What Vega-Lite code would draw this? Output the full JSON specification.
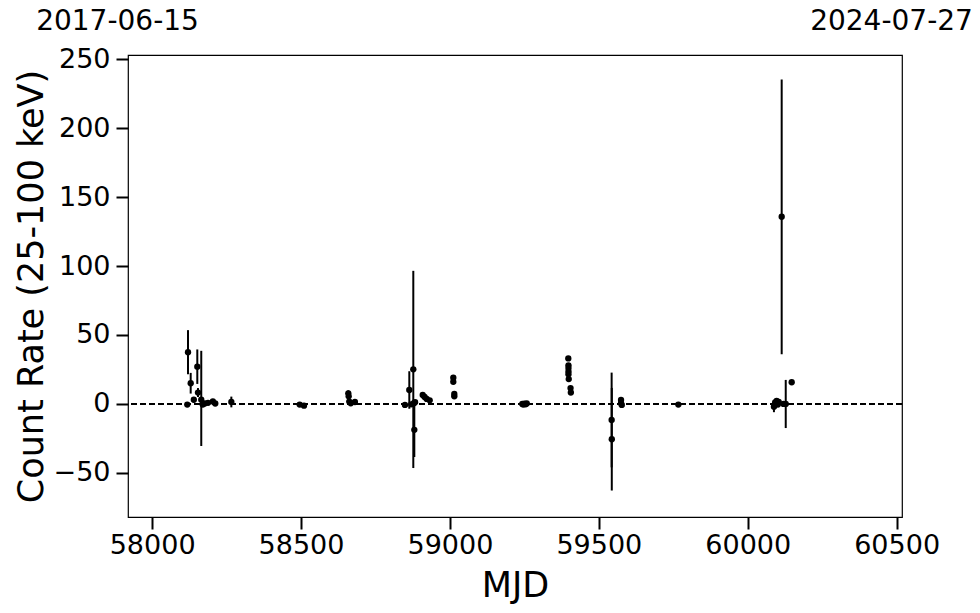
{
  "$schema": "https://vega.github.io/schema/vega-lite/v6.json",
  "autosize": {"type": "none"},
  "padding": {"left": 128, "top": 55, "right": 78, "bottom": 96},
  "width": 774,
  "height": 462,
  "config": {
    "font": "DejaVu Sans",
    "view": {"stroke": "black", "strokeWidth": 1.2},
    "axis": {"grid": false, "domain": false, "labelColor": "black", "titleColor": "black", "tickColor": "black", "titleFontWeight": "normal", "labelFont": "DejaVu Sans", "titleFont": "DejaVu Sans"}
  },
  "data": {
    "values": [
      {"mjd": 58118, "rate": -0.5, "lo": -2, "hi": 1},
      {"mjd": 58120.5, "rate": 37.5, "lo": 21.5, "hi": 53.5},
      {"mjd": 58129.5, "rate": 15, "lo": 7.5, "hi": 22.5},
      {"mjd": 58140, "rate": 3, "lo": 1, "hi": 5},
      {"mjd": 58151.7, "rate": 27, "lo": 14.5, "hi": 39.5},
      {"mjd": 58154, "rate": 8.2, "lo": 5, "hi": 11.5},
      {"mjd": 58165, "rate": 3, "lo": -30.5, "hi": 38.5},
      {"mjd": 58170, "rate": -0.5, "lo": -1.5, "hi": 0.5},
      {"mjd": 58176.5, "rate": 0.3, "lo": -0.7, "hi": 1.3},
      {"mjd": 58187.6, "rate": 0.8, "lo": -0.2, "hi": 1.8},
      {"mjd": 58204, "rate": 1.8, "lo": 0.8, "hi": 2.8},
      {"mjd": 58212, "rate": 0.3, "lo": -0.7, "hi": 1.3},
      {"mjd": 58266, "rate": 1.4, "lo": -2.5, "hi": 5.3},
      {"mjd": 58495.5, "rate": -0.5, "lo": -1.5, "hi": 0.5},
      {"mjd": 58510, "rate": -1.3, "lo": -2.3, "hi": -0.3},
      {"mjd": 58658.8, "rate": 7.7, "lo": 5.5, "hi": 9.9},
      {"mjd": 58660, "rate": 5.5, "lo": 4, "hi": 7},
      {"mjd": 58662, "rate": 1.7, "lo": 0.7, "hi": 2.7},
      {"mjd": 58667, "rate": 0.5, "lo": -0.5, "hi": 1.5},
      {"mjd": 58681, "rate": 1.4, "lo": 0.4, "hi": 2.4},
      {"mjd": 58849, "rate": -0.7, "lo": -1.7, "hi": 0.3},
      {"mjd": 58863.6, "rate": 10.1, "lo": -3.5, "hi": 23.7},
      {"mjd": 58870, "rate": -0.3, "lo": -1.5, "hi": 1},
      {"mjd": 58877, "rate": 25.1, "lo": -46.5, "hi": 96.5},
      {"mjd": 58879, "rate": 0.5, "lo": -1, "hi": 2},
      {"mjd": 58880.4, "rate": -18.8, "lo": -38.5, "hi": 0.8},
      {"mjd": 58883, "rate": 1.2, "lo": 0, "hi": 2.4},
      {"mjd": 58908.6, "rate": 6.5, "lo": 5.5, "hi": 7.5},
      {"mjd": 58915, "rate": 5, "lo": 4, "hi": 6},
      {"mjd": 58922, "rate": 3.6, "lo": 2.6, "hi": 4.6},
      {"mjd": 58932, "rate": 2.6, "lo": 1.6, "hi": 3.6},
      {"mjd": 59011.3, "rate": 19, "lo": 18, "hi": 20},
      {"mjd": 59011.3, "rate": 16, "lo": 15, "hi": 17},
      {"mjd": 59014.7, "rate": 7.2, "lo": 6.2, "hi": 8.2},
      {"mjd": 59014.7, "rate": 5.5, "lo": 4.5, "hi": 6.5},
      {"mjd": 59243, "rate": 0, "lo": -0.5, "hi": 0.5},
      {"mjd": 59246, "rate": -0.5, "lo": -1, "hi": 0},
      {"mjd": 59250, "rate": 0.2, "lo": -0.3, "hi": 0.7},
      {"mjd": 59254, "rate": -0.3, "lo": -0.8, "hi": 0.2},
      {"mjd": 59258, "rate": 0.3, "lo": -0.2, "hi": 0.8},
      {"mjd": 59397.5, "rate": 33, "lo": 32, "hi": 34},
      {"mjd": 59398, "rate": 28, "lo": 27, "hi": 29},
      {"mjd": 59398, "rate": 26, "lo": 25, "hi": 27},
      {"mjd": 59398, "rate": 23.5, "lo": 22.5, "hi": 24.5},
      {"mjd": 59398, "rate": 21.5, "lo": 20.5, "hi": 22.5},
      {"mjd": 59399, "rate": 18, "lo": 17, "hi": 19},
      {"mjd": 59405, "rate": 11.5, "lo": 10.5, "hi": 12.5},
      {"mjd": 59406, "rate": 8.3, "lo": 7.3, "hi": 9.3},
      {"mjd": 59543, "rate": -11.6, "lo": -46, "hi": 22.7},
      {"mjd": 59543.5, "rate": -25.6, "lo": -62.8, "hi": 11.6},
      {"mjd": 59574.5, "rate": 2.9, "lo": 1.9, "hi": 3.9},
      {"mjd": 59574.5, "rate": 0.5, "lo": -0.5, "hi": 1.5},
      {"mjd": 59577, "rate": -0.7, "lo": -1.7, "hi": 0.3},
      {"mjd": 59767, "rate": -0.5, "lo": -1.5, "hi": 0.5},
      {"mjd": 60088, "rate": -2, "lo": -6, "hi": 2},
      {"mjd": 60092, "rate": 1, "lo": 0, "hi": 2},
      {"mjd": 60097, "rate": 2.2, "lo": 1.2, "hi": 3.2},
      {"mjd": 60101, "rate": -0.5, "lo": -1.5, "hi": 0.5},
      {"mjd": 60104, "rate": 1.5, "lo": 0.5, "hi": 2.5},
      {"mjd": 60114, "rate": 135.7, "lo": 36, "hi": 235.3},
      {"mjd": 60120, "rate": 0, "lo": -1, "hi": 1},
      {"mjd": 60127.6, "rate": 0, "lo": -17.5, "hi": 17.4},
      {"mjd": 60147.6, "rate": 15.7, "lo": 14.7, "hi": 16.7}
    ]
  },
  "layer": [
    {
      "mark": {"type": "rule", "strokeDash": [6, 3], "strokeWidth": 1.5, "color": "black"},
      "encoding": {"y": {"datum": 0, "type": "quantitative", "scale": {"domain": [-82, 253], "nice": false, "zero": false}}}
    },
    {
      "mark": {"type": "rule", "strokeWidth": 2, "color": "black"},
      "encoding": {
        "x": {"field": "mjd", "type": "quantitative", "scale": {"domain": [57919, 60518], "nice": false, "zero": false},
          "axis": {"orient": "top", "title": null, "values": [57919, 60518], "ticks": false, "labelExpr": "datum.value < 58000 ? '2017-06-15' : '2024-07-27'", "labelFontSize": 28, "labelPadding": 20, "labelAlign": "center", "labelOffset": -11, "labelOverlap": false, "labelBound": false}},
        "y": {"field": "lo", "type": "quantitative", "scale": {"domain": [-82, 253], "nice": false, "zero": false}},
        "y2": {"field": "hi"}
      }
    },
    {
      "mark": {"type": "point", "filled": true, "size": 40, "color": "black", "opacity": 1},
      "encoding": {
        "x": {"field": "mjd", "type": "quantitative", "scale": {"domain": [57919, 60518], "nice": false, "zero": false},
          "axis": {"orient": "bottom", "title": "MJD", "values": [58000, 58500, 59000, 59500, 60000, 60500], "format": "d", "tickSize": 12, "tickWidth": 2, "labelFontSize": 27, "labelPadding": 3, "titleFontSize": 35, "titleX": 387, "titleY": 68, "titleAlign": "center", "titleBaseline": "middle"}},
        "y": {"field": "rate", "type": "quantitative", "scale": {"domain": [-82, 253], "nice": false, "zero": false},
          "axis": {"title": "Count Rate (25-100 keV)", "values": [-50, 0, 50, 100, 150, 200, 250], "format": "d", "tickSize": 12, "tickWidth": 2, "labelFontSize": 27, "labelPadding": 6, "titleFontSize": 35, "titleAngle": -90, "titleX": -97, "titleY": 231, "titleAlign": "center", "titleBaseline": "middle"}}
      }
    }
  ],
  "resolve": {"axis": {"x": "independent"}}
}
